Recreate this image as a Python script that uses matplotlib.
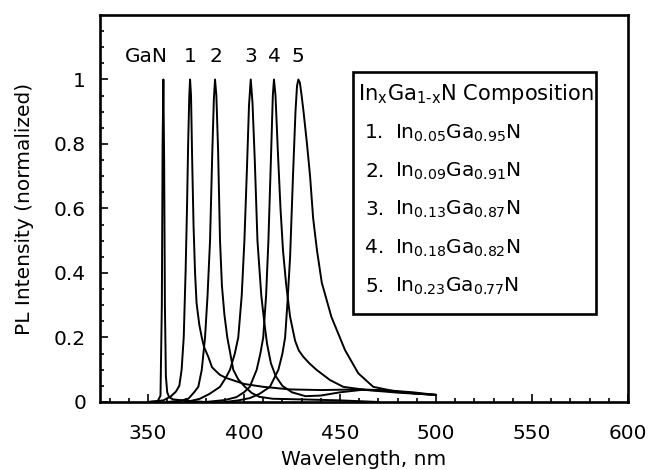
import numpy as np
import matplotlib
matplotlib.use("Agg")
import matplotlib.pyplot as plt
from matplotlib.patches import Rectangle

plt.rcParams['font.family'] = ['DejaVu Sans']
plt.rcParams['mathtext.fontset'] = 'dejavusans'
fs = 14.5

# PL spectra (wavelength nm, normalized intensity)
wl_gan = [350, 355, 356.5, 357.2, 357.6, 358.0, 358.4, 358.8, 359.3, 360, 361, 363, 370, 380]
pl_gan = [0, 0.002, 0.02, 0.3, 0.8, 1.0, 0.75, 0.3, 0.08, 0.03, 0.015, 0.008, 0.004, 0]

wl_1 = [350, 358, 362, 364.5, 366.3, 367.5, 368.6, 369.6, 370.3, 370.9, 371.5, 371.9, 372.4,
        373.0, 373.7, 374.5, 375.3, 376.7, 378.0, 379.2, 381.4, 383.3, 385.5, 387.5, 390.5,
        394, 400, 410, 424, 440, 460, 475, 488, 500]
pl_1 = [0, 0.005, 0.018, 0.032, 0.05, 0.1, 0.2, 0.41, 0.6, 0.8, 0.95, 1.0, 0.95,
        0.75, 0.55, 0.4, 0.306, 0.24, 0.2, 0.17, 0.14, 0.108, 0.095, 0.084, 0.075,
        0.068, 0.056, 0.047, 0.039, 0.037, 0.039, 0.036, 0.03, 0.022]

wl_2 = [360, 367, 371, 374, 376.2, 378, 379.7, 381, 382.3, 383.5, 384.3, 384.9, 385.6, 386.5,
        387.5, 388.5, 389.8, 391.3, 394.4, 397, 400.5, 404, 408, 415, 430, 450, 470]
pl_2 = [0, 0.004, 0.01, 0.03, 0.047, 0.1, 0.2, 0.33, 0.5, 0.78, 0.94, 1.0, 0.95, 0.78,
        0.5, 0.36, 0.27, 0.2, 0.1, 0.07, 0.047, 0.028, 0.016, 0.01, 0.008, 0.005, 0]

wl_3 = [370, 377, 382, 387.5, 390.5, 392.7, 395.2, 397, 398.8, 400.2, 401.5, 402.6, 403.5,
        404.4, 405.6, 407, 409, 410.5, 412, 414, 416.5, 420, 425, 432, 440, 450, 462, 475, 490, 500]
pl_3 = [0, 0.01, 0.025, 0.047, 0.075, 0.1, 0.15, 0.2, 0.33, 0.5, 0.72, 0.92, 1.0,
        0.93, 0.75, 0.5, 0.33, 0.25, 0.18, 0.12, 0.08, 0.05, 0.03, 0.018, 0.02, 0.03, 0.038, 0.034, 0.026, 0.022]

wl_4 = [380, 390, 396, 400, 403, 406.6, 408.5, 410, 411.5, 412.7, 414, 415, 415.6, 416.4, 417.6,
        419, 420.3, 421.9, 424, 426.6, 428.5, 430.9, 434, 437.9, 444.8, 451.7, 463.9, 480, 500]
pl_4 = [0, 0.006, 0.015, 0.03, 0.047, 0.1, 0.15, 0.2, 0.33, 0.5, 0.75, 0.95, 1.0, 0.95, 0.78,
        0.6, 0.47, 0.367, 0.264, 0.19, 0.16, 0.14, 0.12, 0.099, 0.068, 0.047, 0.037, 0.029, 0.022]

wl_5 = [390, 397, 403, 408, 413.5, 417.9, 420, 421.4, 422.6, 424, 425.5, 426.8, 427.6, 428.3, 429.1,
        430, 431, 432.8, 434.4, 436, 438, 440.5, 445.5, 452.6, 459.5, 467.3, 479.5, 490, 500]
pl_5 = [0, 0.005, 0.012, 0.025, 0.047, 0.1, 0.15, 0.2, 0.306, 0.45, 0.7, 0.9, 0.98, 1.0, 0.99,
        0.95, 0.9, 0.8, 0.7, 0.57, 0.47, 0.37, 0.264, 0.161, 0.089, 0.047, 0.032, 0.026, 0.022]

spectra = [(wl_gan, pl_gan), (wl_1, pl_1), (wl_2, pl_2), (wl_3, pl_3), (wl_4, pl_4), (wl_5, pl_5)]

peak_names = ['GaN', '1', '2', '3', '4', '5']
peak_pos = [349, 371.9, 385.2, 403.5, 415.6, 427.8]

legend_title = r'In$_{\rm x}$Ga$_{\rm 1\text{-}x}$N Composition'
legend_nums = ['1.', '2.', '3.', '4.', '5.']
legend_x_in = ['0.05', '0.09', '0.13', '0.18', '0.23']
legend_x_ga = ['0.95', '0.91', '0.87', '0.82', '0.77']

fig = plt.figure(figsize=(6.49, 4.70), dpi=100)
ax = fig.add_axes([0.1541, 0.1447, 0.8136, 0.8234])

for wl, pl in spectra:
    ax.plot(wl, pl, color='black', lw=1.4)

for name, pos in zip(peak_names, peak_pos):
    ax.text(pos, 1.07, name, ha='center', va='center', fontsize=fs)

ax.set_xlim(325, 600)
ax.set_ylim(0, 1.2)
ax.set_xticks([350, 400, 450, 500, 550, 600])
ax.set_xticks(np.arange(330, 601, 10), minor=True)
ax.set_yticks([0, 0.2, 0.4, 0.6, 0.8, 1])
ax.set_yticklabels(['0', '0.2', '0.4', '0.6', '0.8', '1'])
ax.set_yticks(np.arange(0, 1.2, 0.05), minor=True)
ax.tick_params(which='both', direction='in', top=False, right=False, width=1.2, labelsize=fs)
ax.tick_params(which='major', length=6)
ax.tick_params(which='minor', length=3)
ax.tick_params(axis='x', pad=16)
ax.tick_params(axis='y', pad=10)
for sp in ax.spines.values():
    sp.set_linewidth(1.9)

ax.set_xlabel('Wavelength, nm', fontsize=fs)
ax.set_ylabel('PL Intensity (normalized)', fontsize=fs)
ax.xaxis.set_label_coords(0.5, -0.125)
ax.yaxis.set_label_coords(-0.125, 0.5)

# composition box
ax.add_patch(Rectangle((0.479, 0.227), 0.46, 0.626, transform=ax.transAxes,
                       fill=False, lw=1.9, color='black', zorder=3))
ax.text(0.489, 0.780, legend_title, transform=ax.transAxes, fontsize=15.1, va='baseline')
base_y = [0.681, 0.582, 0.483, 0.384, 0.285]
for num, xin, xga, yb in zip(legend_nums, legend_x_in, legend_x_ga, base_y):
    ax.text(0.502, yb, num, transform=ax.transAxes, fontsize=fs, va='baseline')
    ax.text(0.559, yb, 'In$_{%s}$Ga$_{%s}$N' % (xin, xga), transform=ax.transAxes,
            fontsize=fs, va='baseline')

fig.savefig('out.png', dpi=100)
